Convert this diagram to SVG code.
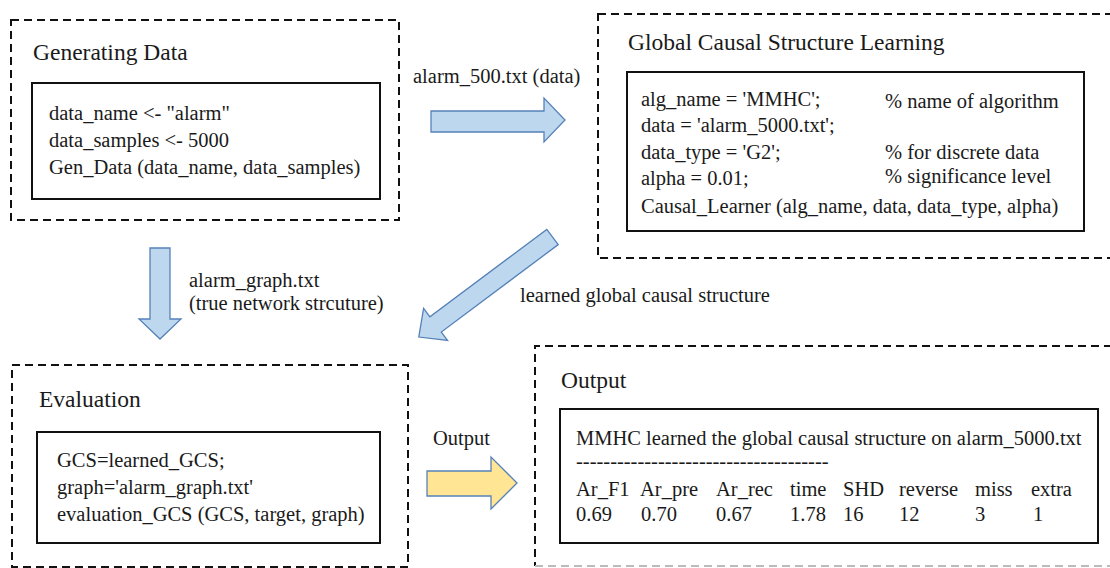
<svg xmlns="http://www.w3.org/2000/svg" width="1110" height="568" viewBox="0 0 1110 568" font-family="'Liberation Serif', 'DejaVu Serif', serif">
<style>
text{font-family:'Liberation Serif','DejaVu Serif',serif;fill:#1a1a1a}
.t{font-size:23.5px}
.b{font-size:20.5px}
.dash{fill:none;stroke:#111;stroke-width:2;stroke-dasharray:8 5}
.box{fill:#fff;stroke:#111;stroke-width:2}
.ab{fill:#BDD7EE;stroke:#5682B8;stroke-width:1.3}
.ay{fill:#FFE594;stroke:#5682B8;stroke-width:1.3}
</style>
<rect width="1110" height="568" fill="#fff"/>
<g id="gen">
<rect class="dash" x="11" y="20" width="388" height="200"/>
<text class="t" x="33" y="60">Generating Data</text>
<rect class="box" x="32" y="83" width="348" height="116"/>
<text class="b" x="49" y="120">data_name &lt;- "alarm"</text>
<text class="b" x="49" y="147">data_samples &lt;- 5000</text>
<text class="b" x="49" y="174">Gen_Data (data_name, data_samples)</text>
</g>
<g id="global">
<rect class="dash" x="598" y="14" width="520" height="244"/>
<text class="t" x="628" y="50">Global Causal Structure Learning</text>
<rect class="box" x="627" y="72" width="457" height="159"/>
<text class="b" x="641" y="106">alg_name = 'MMHC';</text>
<text class="b" x="885" y="108">% name of algorithm</text>
<text class="b" x="641" y="132">data = 'alarm_5000.txt';</text>
<text class="b" x="641" y="159">data_type = 'G2';</text>
<text class="b" x="885" y="159">% for discrete data</text>
<text class="b" x="641" y="185">alpha = 0.01;</text>
<text class="b" x="885" y="183">% significance level</text>
<text class="b" x="641" y="213">Causal_Learner (alg_name, data, data_type, alpha)</text>
</g>
<g id="eval">
<rect class="dash" x="12" y="365" width="396" height="202"/>
<text class="t" x="39" y="407">Evaluation</text>
<rect class="box" x="37" y="432" width="343" height="111"/>
<text class="b" x="57" y="467">GCS=learned_GCS;</text>
<text class="b" x="57" y="494">graph='alarm_graph.txt'</text>
<text class="b" x="57" y="521">evaluation_GCS (GCS, target, graph)</text>
</g>
<g id="output">
<path class="dash" d="M1112,346 H535 V566"/>
<path class="dash" d="M535,566 H1112" style="stroke:#bbb"/>
<text class="t" x="561" y="388">Output</text>
<rect class="box" x="560" y="409" width="538" height="134"/>
<text class="b" x="576" y="445">MMHC learned the global causal structure on alarm_5000.txt</text>
<text class="b" x="576" y="468">-------------------------------------</text>
<text class="b" y="496"><tspan x="576">Ar_F1</tspan><tspan x="640">Ar_pre</tspan><tspan x="716">Ar_rec</tspan><tspan x="790">time</tspan><tspan x="843">SHD</tspan><tspan x="899">reverse</tspan><tspan x="975">miss</tspan><tspan x="1031">extra</tspan></text>
<text class="b" y="521"><tspan x="576">0.69</tspan><tspan x="641">0.70</tspan><tspan x="716">0.67</tspan><tspan x="790">1.78</tspan><tspan x="843">16</tspan><tspan x="899">12</tspan><tspan x="975">3</tspan><tspan x="1033">1</tspan></text>
</g>
<g id="connectors">
<path class="ab" d="M431,111 H544 V98 L565,120 L544,142 V132 H431 Z"/>
<text class="b" x="413" y="83">alarm_500.txt (data)</text>
<path class="ab" d="M150,248 H170 V319 H181 L160,339 L139,319 H150 Z"/>
<text class="b" x="189" y="287">alarm_graph.txt</text>
<text class="b" x="189" y="310">(true network strcuture)</text>
<path class="ab" transform="translate(552.5,237) rotate(143.2)" d="M0,-9.5 H146 V-20 L167,0 L146,20 V9.5 H0 Z"/>
<text class="b" x="520" y="302">learned global causal structure</text>
<path class="ay" d="M427,471 H491 V457 L517,483 L491,509 V496 H427 Z"/>
<text class="b" x="433" y="445">Output</text>
</g>
</svg>
